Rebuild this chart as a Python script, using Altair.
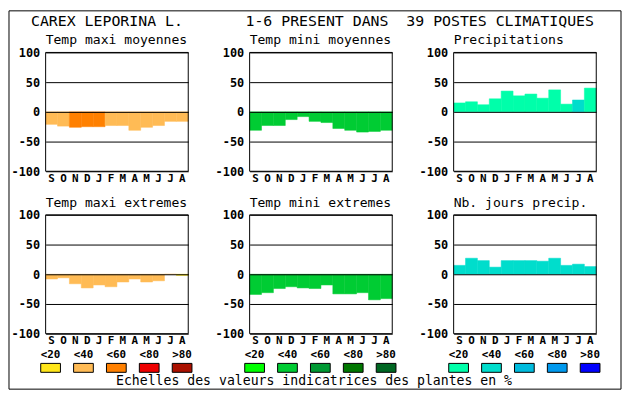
import altair as alt
import pandas as pd

FONT = "DejaVu Sans Mono"

# ---------------- data ----------------
months = ["Sep", "Oct", "Nov", "Dec", "Jan", "Feb", "Mar", "Apr", "May", "Jun", "Jul", "Aug"]
y_ticks = [-100, -50, 0, 50, 100]

main_title = ["CAREX LEPORINA L.", "1-6 PRESENT DANS", "39 POSTES CLIMATIQUES"]
panel_titles = ["Temp maxi moyennes", "Temp mini moyennes", "Precipitations",
                "Temp maxi extremes", "Temp mini extremes", "Nb. jours precip."]

tmax_moy = [-21, -24, -26, -25, -25, -23, -23, -31, -26, -23, -16, -16]
tmax_moy_cls = [1, 1, 2, 2, 2, 1, 1, 1, 1, 1, 1, 1]
tmin_moy = [-31, -23, -23, -13, -8, -16, -18, -28, -31, -34, -33, -31]
tmin_moy_cls = [1, 1, 1, 1, 1, 1, 1, 1, 1, 1, 1, 1]
precip = [15, 17, 12, 22, 35, 27, 30, 23, 37, 13, 20, 40]
precip_cls = [0, 0, 0, 0, 0, 0, 0, 0, 0, 0, 1, 0]
tmax_ext = [-8, -6, -16, -23, -18, -21, -13, -8, -13, -11, 0, -2]
tmax_ext_cls = [1, 1, 1, 1, 1, 1, 1, 1, 1, 1, 1, 0]
tmin_ext = [-34, -31, -24, -21, -23, -24, -18, -33, -33, -31, -43, -41]
tmin_ext_cls = [1, 1, 1, 1, 1, 1, 1, 1, 1, 1, 1, 1]
nb_jours = [15, 27, 23, 12, 23, 23, 23, 22, 27, 15, 17, 13]
nb_jours_cls = [1, 1, 1, 1, 1, 1, 1, 1, 1, 1, 1, 1]

legend_labels = ["<20", "<40", "<60", "<80", ">80"]
footer = "Echelles des valeurs indicatrices des plantes en %"

# ---------------- styles ----------------
pal_tmax = ["#FFE619", "#FFBB55", "#FF8000", "#EE0000", "#AA1100"]
pal_tmin = ["#00FF00", "#00CC33", "#009933", "#007700", "#006622"]
pal_prec = ["#00FFAA", "#00DDCC", "#00BBDD", "#0099EE", "#0000FF"]

W, H = 144, 120


def one(**kw):
    return pd.DataFrame({k: [v] for k, v in kw.items()})


def panel(title, values, classes, palette, extra=()):
    df = pd.DataFrame({"month": months, "v": values,
                       "c": [palette[k] for k in classes]})
    bars = alt.Chart(df).mark_bar(strokeWidth=0.5).encode(
        x=alt.X("month:N", sort=months,
                scale=alt.Scale(paddingInner=0, paddingOuter=0),
                axis=alt.Axis(title=None, labelExpr="substring(datum.value, 0, 1)",
                              labelAngle=0, ticks=False, domain=False, grid=False,
                              labelPadding=1, labelFont=FONT, labelFontSize=11,
                              labelFontWeight="bold", labelColor="black")),
        y=alt.Y("v:Q", scale=alt.Scale(domain=[-100, 100], nice=False, zero=False),
                axis=alt.Axis(title=None, values=y_ticks, grid=True, gridColor="black",
                              gridOpacity=1, gridWidth=1, ticks=False, domain=False,
                              labelPadding=6, labelExpr="'' + datum.value",
                              labelFont=FONT, labelFontSize=12, labelFontWeight="bold",
                              labelColor="black", zindex=1)),
        fill=alt.Fill("c:N", scale=None),
        stroke=alt.Stroke("c:N", scale=None),
    )
    frame = alt.Chart(one(a=1)).mark_rect(filled=False, stroke="black", strokeWidth=1).encode(
        x=alt.value(0), x2=alt.value(W), y=alt.value(0), y2=alt.value(H))
    ttl = alt.Chart(one(t=title)).mark_text(
        align="left", baseline="alphabetic", font=FONT, fontSize=13.2, color="black"
    ).encode(text="t:N", x=alt.value(0), y=alt.value(-8.2))
    return alt.layer(bars, frame, ttl, *extra).properties(width=W, height=H)


nb = "\u00a0"
title_text = main_title[0] + nb * 7 + main_title[1] + nb * 2 + main_title[2]
main_ttl = alt.Chart(one(t=title_text)).mark_text(
    align="left", baseline="alphabetic", font=FONT, fontSize=15, color="black"
).encode(text="t:N", x=alt.value(-14.8), y=alt.value(-27.2))
border = alt.Chart(one(a=1)).mark_rect(filled=False, stroke="black", strokeWidth=1).encode(
    x=alt.value(-37), x2=alt.value(581), y=alt.value(-42), y2=alt.value(340))

p1 = panel(panel_titles[0], tmax_moy, tmax_moy_cls, pal_tmax, extra=(border, main_ttl))
p2 = panel(panel_titles[1], tmin_moy, tmin_moy_cls, pal_tmin)
p3 = panel(panel_titles[2], precip, precip_cls, pal_prec)
p4 = panel(panel_titles[3], tmax_ext, tmax_ext_cls, pal_tmax)
p5 = panel(panel_titles[4], tmin_ext, tmin_ext_cls, pal_tmin)
p6 = panel(panel_titles[5], nb_jours, nb_jours_cls, pal_prec)


def legend(palette, with_footer=False):
    df = pd.DataFrame({"cls": legend_labels, "c": palette})
    x = alt.X("cls:N", sort=legend_labels, axis=None,
              scale=alt.Scale(range=[-11.6, 154.4], paddingInner=0.4, paddingOuter=0.2))
    boxes = alt.Chart(df).mark_rect(stroke="black", strokeWidth=1).encode(
        x=x, y=alt.value(-14), y2=alt.value(-5), fill=alt.Fill("c:N", scale=None))
    labels = alt.Chart(df).mark_text(
        font=FONT, fontSize=11, fontWeight="bold", baseline="alphabetic", color="black"
    ).encode(x=x, y=alt.value(-19.3), text="cls:N")
    layers = [boxes, labels]
    if with_footer:
        layers.append(alt.Chart(one(t=footer)).mark_text(
            font=FONT, fontSize=13.3, baseline="alphabetic", align="center", color="black"
        ).encode(text="t:N", x=alt.value(65), y=alt.value(8)))
    return alt.layer(*layers).properties(width=W, height=10)


chart = alt.concat(
    p1, p2, p3, p4, p5, p6,
    legend(pal_tmax), legend(pal_tmin, True), legend(pal_prec),
    columns=3, spacing={"row": 44, "column": 62}, bounds="flush",
).properties(padding=0, background="white").configure_view(stroke="transparent")

chart.save("out.html", embed_options={"renderer": "svg", "actions": False})
